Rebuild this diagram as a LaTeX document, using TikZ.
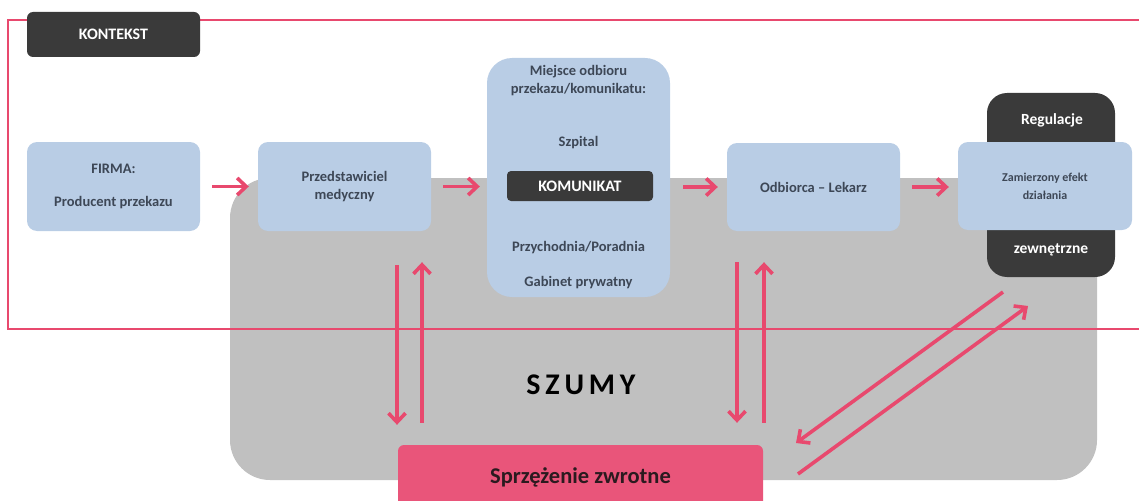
\documentclass[tikz,border=0pt]{standalone}
\usepackage{fontspec}
\setmainfont{Carlito}
\usetikzlibrary{arrows.meta}
\definecolor{boxblue}{HTML}{B9CDE5}
\definecolor{darkbox}{HTML}{3A3A3A}
\definecolor{noise}{HTML}{C0C0C0}
\definecolor{accent}{HTML}{E8496E}
\definecolor{fbpink}{HTML}{E9557A}
\definecolor{boxtext}{HTML}{3D4756}
\definecolor{fbtext}{HTML}{2B1A1F}

\begin{document}
\begin{tikzpicture}[x=1pt,y=-1pt,
  bluebox/.style={fill=boxblue, rounded corners=10pt, inner sep=0pt,
    font=\bfseries\fontsize{14.5}{17}\selectfont, text=boxtext, align=center},
  darkrect/.style={fill=darkbox, inner sep=0pt, text=white,
    font=\bfseries\fontsize{15}{17}\selectfont, align=center},
  lbl/.style={inner sep=0pt, text=boxtext, align=center,
    font=\bfseries\fontsize{14.5}{18}\selectfont},
  wlbl/.style={inner sep=0pt, text=white, font=\bfseries\fontsize{15.5}{17}\selectfont},
  arr/.style={draw=accent, line width=3.6pt,
    -{Straight Barb[length=9pt,width=17pt]}},
  hflow/.style={arr, shorten <=12pt, shorten >=9pt},
  frame/.style={draw=accent, line width=2.4pt}
]
\useasboundingbox (0,0) rectangle (1139,500);
\clip (0,0) rectangle (1139,500);

% noise area
\fill[noise, rounded corners=40pt] (230,178) rectangle (1097,480);

% context frame, open to the right
\draw[frame] (1150,20) -- (8,20) -- (8,329) -- (1150,329);

% context label
\node[darkrect, rounded corners=6pt, minimum width=173pt, minimum height=45pt,
  font=\bfseries\fontsize{16}{18}\selectfont]
  (kontekst) at (113.5,34.5) {KONTEKST};

% main flow boxes
\node[bluebox, minimum width=173pt, minimum height=89pt]
  (firma) at (113.5,186.5) {FIRMA:\\[16pt]Producent przekazu};
\node[bluebox, minimum width=173pt, minimum height=89pt,
  font=\bfseries\fontsize{14.5}{18}\selectfont]
  (przed) at (344.5,186.5) {Przedstawiciel\\medyczny};
\node[bluebox, rounded corners=25pt, minimum width=183pt, minimum height=239pt]
  (miejsce) at (578.5,177.5) {};
\node[lbl] (miejscet) at (578.5,81) {Miejsce odbioru\\przekazu/komunikatu:};
\node[lbl] (szpital) at (578.5,143) {Szpital};
\node[darkrect, rounded corners=4pt, minimum width=146pt, minimum height=30pt,
  font=\bfseries\fontsize{16}{18}\selectfont]
  (komunikat) at (580,186) {KOMUNIKAT};
\node[lbl] (przych) at (578.5,248) {Przychodnia/Poradnia};
\node[lbl] (gabinet) at (578.5,283) {Gabinet prywatny};

\node[bluebox, minimum width=173pt, minimum height=88pt]
  (odb) at (813.5,187) {Odbiorca -- Lekarz};

% external regulations behind the intended effect
\node[darkrect, rounded corners=20pt, minimum width=128pt, minimum height=184pt]
  (regul) at (1051,185) {};
\node[wlbl] (regult) at (1052,120) {Regulacje};
\node[wlbl] (zewn) at (1051,250) {zewnętrzne};
\node[bluebox, minimum width=174pt, minimum height=88pt,
  font=\bfseries\fontsize{12}{18}\selectfont]
  (zam) at (1045,186) {Zamierzony efekt\\działania};

% feedback
\node[fill=fbpink, rounded corners=6pt, minimum width=365pt, minimum height=64pt,
  inner sep=0pt, text=fbtext, font=\bfseries\fontsize{22.5}{25}\selectfont]
  (sprz) at (580.5,477) {Sprzężenie zwrotne};

% noise label
\node[inner sep=0pt, text=black,
  font=\bfseries\fontsize{30}{32}\selectfont\addfontfeature{LetterSpace=16}]
  (szumy) at (581,385) {SZUMY};

% horizontal flow
\draw[hflow] (firma) -- (przed);
\draw[hflow, shorten >=7pt] (przed.east) -- (przed.east -| miejsce.west);
\draw[hflow, shorten <=13pt] (miejsce.east |- odb.west) -- (odb.west);
\draw[hflow] (odb.east) -- (odb.east -| zam.west);

% feedback loops
\coordinate (fa) at (397,0);
\coordinate (fb) at (422,0);
\coordinate (fc) at (737,0);
\coordinate (fd) at (764,0);
\draw[arr, shorten <=34pt, shorten >=20pt] (fa |- przed.south) -- (fa |- sprz.north);
\draw[arr, shorten <=22pt, shorten >=31pt] (fb |- sprz.north) -- (fb |- przed.south);
\draw[arr, shorten <=31pt, shorten >=22pt] (fc |- odb.south) -- (fc |- sprz.north);
\draw[arr, shorten <=22pt, shorten >=31pt] (fd |- sprz.north) -- (fd |- odb.south);

% diagonal exchange with the regulations
\coordinate (dgA) at (1003,292);
\coordinate (dgB) at (796,443);
\coordinate (dgC) at (798,474);
\coordinate (dgD) at (1028,306);
\draw[arr] (dgA) -- (dgB);
\draw[arr] (dgC) -- (dgD);
\end{tikzpicture}
\end{document}
